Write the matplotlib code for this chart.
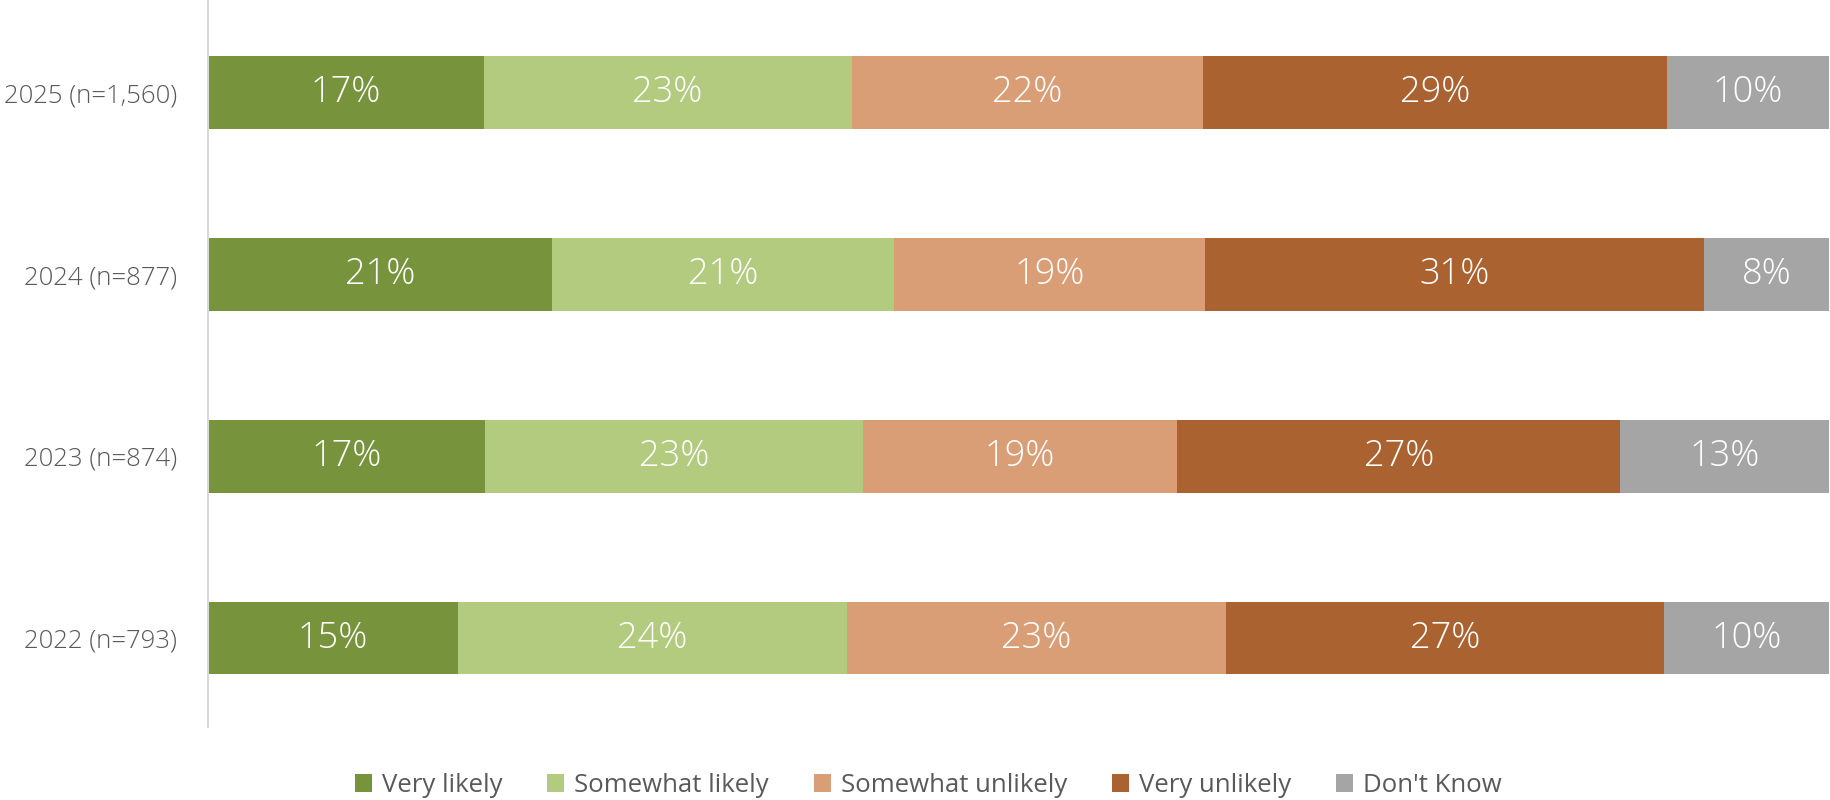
import numpy as np
import matplotlib.pyplot as plt
from matplotlib.patches import Patch

# survey waves, top to bottom
years = ['2025 (n=1,560)', '2024 (n=877)', '2023 (n=874)', '2022 (n=793)']
answers = ['Very likely', 'Somewhat likely', 'Somewhat unlikely', 'Very unlikely', "Don't Know"]

# shares per answer (%)
very_likely = [17.0, 21.2, 17.1, 15.4]
somewhat_likely = [22.7, 21.1, 23.3, 24.0]
somewhat_unlikely = [21.7, 19.2, 19.4, 23.4]
very_unlikely = [28.6, 30.8, 27.3, 27.0]
dont_know = [10.0, 7.7, 12.9, 10.2]

colors = ['#77933C', '#B3CB7F', '#DA9E77', '#AA6230', '#A5A5A5']

plt.rcParams['font.family'] = ['Open Sans', 'DejaVu Sans']

fig = plt.figure(figsize=(18.31, 8), dpi=100)
ax = fig.add_axes([0.1136, 0.091, 0.8854, 0.909])

series = [very_likely, somewhat_likely, somewhat_unlikely, very_unlikely, dont_know]
y = np.arange(len(years))
left = np.zeros(len(years))
for vals, c in zip(series, colors):
    vals = np.array(vals)
    ax.barh(y, vals, left=left, height=0.4, color=c, edgecolor='none')
    # white percentage labels centred in each segment
    for yi, l, v in zip(y, left, vals):
        ax.text(l + v / 2, yi, f'{round(v):.0f}%', ha='center', va='center',
                color='white', fontsize=26, fontweight='light')
    left += vals

ax.set_xlim(0, 100)
ax.set_ylim(3.49, -0.51)
ax.set_yticks(y)
ax.set_yticklabels(years, fontsize=18.5, color='#595959', fontweight='light')
ax.set_xticks([])
ax.tick_params(axis='y', length=0, pad=22)
for s in ['top', 'right', 'bottom']:
    ax.spines[s].set_visible(False)
ax.spines['left'].set_color('#D9D9D9')
ax.spines['left'].set_linewidth(1.5)

# legend below the plot
handles = [Patch(facecolor=c, edgecolor='none') for c in colors]
fig.legend(handles, answers, loc='center', bbox_to_anchor=(0.507, 0.018), ncol=5,
           frameon=False, fontsize=18.5, handlelength=0.65, handleheight=0.65,
           handletextpad=0.4, columnspacing=1.75, labelcolor='#595959')

plt.savefig('out.png', dpi=100)
